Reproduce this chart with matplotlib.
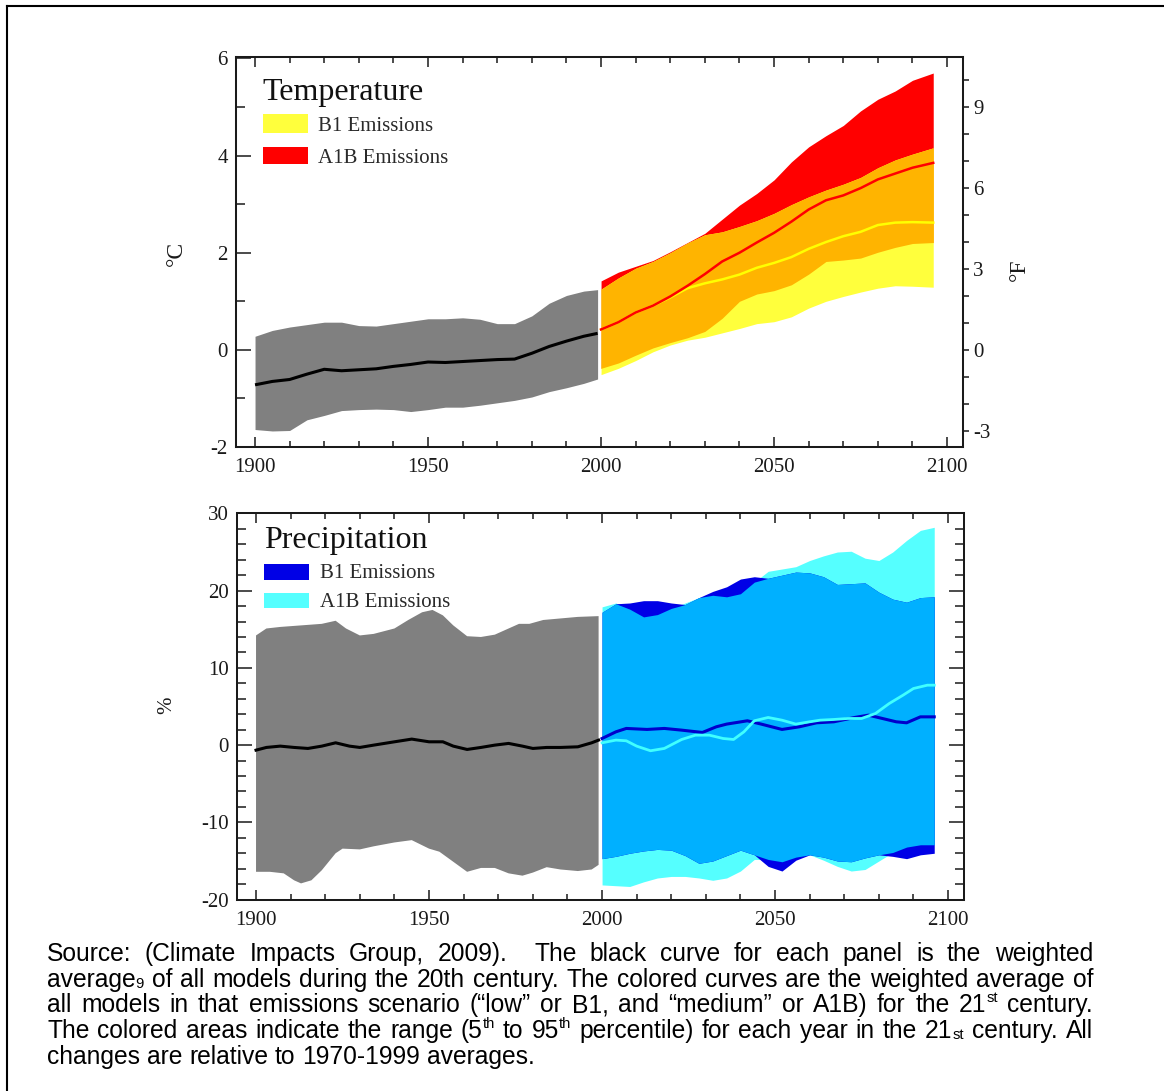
import re
import numpy as np
import matplotlib
matplotlib.use('Agg')
import matplotlib.pyplot as plt
from matplotlib.patches import Rectangle
from matplotlib.lines import Line2D
from matplotlib.ticker import MultipleLocator

# ---------------- data: temperature (deg C) ----------------
t_hist_years = [1900, 1905, 1910, 1915, 1920, 1925, 1930, 1935, 1940, 1945, 1950,
                1955, 1960, 1965, 1970, 1975, 1980, 1985, 1990, 1995, 1999]
t_hist_up = [0.28, 0.40, 0.47, 0.52, 0.57, 0.57, 0.50, 0.49, 0.54, 0.59, 0.64,
             0.64, 0.66, 0.63, 0.54, 0.54, 0.70, 0.96, 1.12, 1.21, 1.24]
t_hist_lo = [-1.64, -1.67, -1.66, -1.44, -1.35, -1.25, -1.23, -1.22, -1.23, -1.27, -1.23,
             -1.18, -1.18, -1.14, -1.09, -1.04, -0.97, -0.86, -0.78, -0.69, -0.60]
t_hist_mean = [-0.72, -0.65, -0.61, -0.50, -0.40, -0.43, -0.41, -0.39, -0.34, -0.30, -0.25,
               -0.26, -0.24, -0.22, -0.20, -0.19, -0.07, 0.07, 0.18, 0.28, 0.34]

t_fut_years = [2000, 2005, 2010, 2015, 2020, 2025, 2030, 2035, 2040, 2045,
               2050, 2055, 2060, 2065, 2070, 2075, 2080, 2085, 2090, 2096]
t_a1b_up = [1.42, 1.60, 1.72, 1.84, 2.02, 2.21, 2.40, 2.69, 2.98, 3.22,
            3.50, 3.87, 4.18, 4.41, 4.62, 4.92, 5.16, 5.33, 5.55, 5.70]
t_b1_up = [1.25, 1.48, 1.68, 1.82, 2.00, 2.20, 2.37, 2.43, 2.54, 2.66,
           2.81, 2.99, 3.15, 3.29, 3.41, 3.55, 3.75, 3.91, 4.03, 4.16]
t_a1b_lo = [-0.38, -0.27, -0.11, 0.04, 0.15, 0.25, 0.38, 0.65, 1.00, 1.15,
            1.22, 1.34, 1.56, 1.82, 1.85, 1.89, 2.01, 2.11, 2.19, 2.21]
t_b1_lo = [-0.51, -0.38, -0.22, -0.04, 0.10, 0.20, 0.26, 0.35, 0.44, 0.54,
           0.58, 0.68, 0.86, 1.00, 1.10, 1.19, 1.27, 1.32, 1.31, 1.29]
t_a1b_mean = [0.42, 0.57, 0.77, 0.91, 1.10, 1.32, 1.56, 1.82, 2.00, 2.21,
              2.41, 2.64, 2.89, 3.08, 3.18, 3.33, 3.51, 3.63, 3.75, 3.85]
t_b1_mean = [0.42, 0.57, 0.77, 0.91, 1.08, 1.27, 1.37, 1.45, 1.55, 1.69,
             1.79, 1.91, 2.08, 2.22, 2.34, 2.43, 2.57, 2.62, 2.63, 2.62]

# ---------------- data: precipitation (%) ----------------
p_hist_up_years = [1900, 1903, 1907, 1913, 1919, 1923, 1926, 1930, 1934, 1940, 1944, 1948, 1951,
                   1954, 1957, 1961, 1965, 1969, 1973, 1976, 1979, 1983, 1988, 1993, 1999]
p_hist_up = [14.2, 15.1, 15.3, 15.5, 15.7, 16.1, 15.1, 14.2, 14.4, 15.1, 16.2, 17.2, 17.5,
             16.8, 15.5, 14.1, 14.0, 14.3, 15.1, 15.7, 15.7, 16.2, 16.4, 16.6, 16.7]
p_hist_lo_years = [1900, 1904, 1908, 1911, 1913, 1916, 1919, 1923, 1925, 1930, 1934, 1940, 1945, 1950,
                   1953, 1957, 1961, 1965, 1969, 1973, 1977, 1980, 1984, 1988, 1993, 1997, 1999]
p_hist_lo = [-16.4, -16.4, -16.6, -17.5, -17.9, -17.5, -16.2, -14.0, -13.4, -13.5, -13.1, -12.6, -12.3, -13.4,
             -13.8, -15.1, -16.4, -15.9, -15.9, -16.6, -16.9, -16.5, -15.8, -16.1, -16.3, -16.1, -15.5]
p_hist_mean_years = [1900, 1903, 1907, 1911, 1915, 1919, 1923, 1927, 1930, 1934, 1940, 1945, 1950,
                     1954, 1957, 1961, 1965, 1969, 1973, 1977, 1980, 1984, 1988, 1993, 1997, 1999]
p_hist_mean = [-0.65, -0.30, -0.13, -0.30, -0.43, -0.13, 0.30, -0.13, -0.30, 0.0, 0.43, 0.78, 0.43,
               0.43, -0.13, -0.56, -0.30, 0.0, 0.22, -0.13, -0.43, -0.30, -0.30, -0.22, 0.30, 0.65]

p_fut_years = [2000, 2004, 2008, 2012, 2016, 2020, 2024, 2028, 2032, 2036, 2040, 2044, 2048,
               2052, 2056, 2060, 2064, 2068, 2072, 2076, 2080, 2084, 2088, 2092, 2096]
p_b1_up = [17.2, 18.3, 18.4, 18.7, 18.7, 18.4, 18.2, 19.1, 19.9, 20.5, 21.5, 21.8, 21.6,
           22.0, 22.4, 22.3, 21.8, 20.8, 20.9, 21.0, 19.8, 18.9, 18.5, 19.1, 19.2]
p_a1b_up = [17.9, 18.4, 17.6, 16.6, 16.9, 17.7, 18.4, 19.1, 19.4, 19.2, 19.6, 21.1, 22.5,
            22.8, 23.1, 23.9, 24.5, 25.0, 25.1, 24.2, 23.9, 25.0, 26.5, 27.8, 28.2]
p_b1_lo = [-14.7, -14.4, -14.0, -13.7, -13.5, -13.6, -14.3, -15.3, -15.0, -14.3, -13.6, -14.2, -15.7,
           -16.3, -14.9, -14.2, -14.5, -15.0, -15.1, -14.6, -14.2, -14.4, -14.7, -14.2, -14.0]
p_a1b_lo = [-18.1, -18.2, -18.3, -17.7, -17.2, -17.0, -17.0, -17.2, -17.5, -17.2, -16.3, -14.8, -14.8,
            -15.1, -14.5, -14.2, -14.9, -15.7, -16.3, -16.1, -15.0, -13.9, -13.2, -12.9, -12.9]
p_b1_mean_years = [2000, 2004, 2007, 2013, 2018, 2023, 2029, 2033, 2036, 2042, 2046,
                   2052, 2057, 2062, 2067, 2073, 2077, 2081, 2085, 2088, 2092, 2096]
p_b1_mean = [0.86, 1.72, 2.16, 2.03, 2.16, 1.94, 1.64, 2.37, 2.72, 3.15, 2.72,
             2.03, 2.37, 2.89, 3.02, 3.58, 3.88, 3.45, 3.02, 2.89, 3.66, 3.66]
p_a1b_mean_years = [2000, 2004, 2007, 2010, 2014, 2018, 2023, 2027, 2031, 2035, 2038, 2041, 2044, 2048,
                    2052, 2056, 2060, 2063, 2067, 2071, 2075, 2079, 2083, 2087, 2090, 2094, 2096]
p_a1b_mean = [0.30, 0.65, 0.56, -0.13, -0.73, -0.43, 0.73, 1.29, 1.29, 0.86, 0.73, 1.72, 3.15, 3.58,
              3.23, 2.72, 3.02, 3.23, 3.32, 3.45, 3.45, 4.09, 5.39, 6.47, 7.33, 7.76, 7.76]

# ---------------- text ----------------
temp_title = "Temperature"
prec_title = "Precipitation"
scen_labels = ["B1 Emissions", "A1B Emissions"]
caption_lines = [
    "Source: (Climate Impacts Group, 2009).  The black curve for each panel is the weighted",
    "average_9 of all models during the 20th century. The colored curves are the weighted average of",
    "all models in that emissions scenario (\u201clow\u201d or B1, and \u201cmedium\u201d or A1B) for the 21^st century.",
    "The colored areas indicate the range (5^th to 95^th percentile) for each year in the 21_st century. All",
    "changes are relative to 1970-1999 averages.",
]

# ---------------- style ----------------
W, H, DPI = 1164, 1091, 100
SERIF = ['Liberation Serif', 'DejaVu Serif']
SANS = ['Liberation Sans', 'DejaVu Sans']
INK = '#1a1a1a'
GRAY = '#808080'
RED, YELLOW, ORANGE = '#ff0000', '#ffff3c', '#ffb400'
DBLUE, CYAN, MBLUE = '#0000e6', '#55ffff', '#00b0ff'

plt.rcParams['font.family'] = SERIF
plt.rcParams['axes.unicode_minus'] = False
plt.rcParams['axes.linewidth'] = 1.45

fig = plt.figure(figsize=(W / DPI, H / DPI), dpi=DPI)
fig.patch.set_facecolor('white')


def rect(l, t, r, b):
    return [l / W, 1 - b / H, (r - l) / W, (b - t) / H]


AX1 = (236, 57, 963, 447)
AX2 = (237, 513, 964, 900)
ax1 = fig.add_axes(rect(*AX1))
ax2 = fig.add_axes(rect(*AX2))


def style(ax, ymaj, ymin, right):
    ax.set_xlim(1894.5, 2104.6)
    ax.xaxis.set_major_locator(MultipleLocator(50))
    ax.xaxis.set_minor_locator(MultipleLocator(10))
    ax.yaxis.set_major_locator(MultipleLocator(ymaj))
    ax.yaxis.set_minor_locator(MultipleLocator(ymin))
    ax.tick_params(which='both', direction='in', top=True, right=right,
                   colors=INK, width=1.1, labelsize=15)
    ax.tick_params(axis='x', which='major', length=7, pad=8)
    ax.tick_params(axis='x', which='minor', length=4.5)
    ax.tick_params(axis='y', which='major', length=10.5, pad=6)
    ax.tick_params(axis='y', which='minor', length=6.5)
    for s in ax.spines.values():
        s.set_color(INK)


# ---- temperature panel ----
ax1.set_ylim(-2.0, 6.03)
style(ax1, 2, 1, False)
ax1.fill_between(t_hist_years, t_hist_lo, t_hist_up, color=GRAY, lw=0)
ax1.plot(t_hist_years, t_hist_mean, color='black', lw=2.2, solid_capstyle='butt')
a_up, a_lo = np.array(t_a1b_up), np.array(t_a1b_lo)
b_up, b_lo = np.array(t_b1_up), np.array(t_b1_lo)
ax1.fill_between(t_fut_years, a_lo, a_up, color=RED, lw=0)
ax1.fill_between(t_fut_years, b_lo, b_up, color=YELLOW, lw=0)
ov_lo, ov_up = np.maximum(a_lo, b_lo), np.minimum(a_up, b_up)
ax1.fill_between(t_fut_years, ov_lo, ov_up, where=ov_up > ov_lo, interpolate=True, color=ORANGE, lw=0)
ax1.plot(t_fut_years, t_b1_mean, color='#ffff00', lw=1.8)
ax1.plot(t_fut_years, t_a1b_mean, color=RED, lw=1.8)
ax1.set_ylabel('\u00b0C', fontsize=17, color=INK, rotation=90)
ax1.yaxis.set_label_coords((176 - AX1[0]) / (AX1[2] - AX1[0]), (AX1[3] - 253) / (AX1[3] - AX1[1]))
ax1.yaxis.label.set_verticalalignment('center')

tax = ax1.twinx()
tax.set_ylim(-2.0 * 1.8, 6.03 * 1.8)
tax.yaxis.set_major_locator(MultipleLocator(3))
tax.yaxis.set_minor_locator(MultipleLocator(1))
tax.tick_params(axis='y', which='both', direction='out', length=4.5, width=1.1,
                pad=3, colors=INK, labelsize=15)
tax.set_ylabel('\u00b0F', fontsize=17, color=INK, rotation=90)
tax.yaxis.set_label_coords((1019 - AX1[0]) / (AX1[2] - AX1[0]), (AX1[3] - 270) / (AX1[3] - AX1[1]))
tax.yaxis.label.set_verticalalignment('center')
for s in tax.spines.values():
    s.set_color(INK)

# ---- precipitation panel ----
ax2.set_ylim(-20.05, 30.05)
style(ax2, 10, 2, True)
ax2.fill(list(p_hist_up_years) + list(p_hist_lo_years[::-1]),
         list(p_hist_up) + list(p_hist_lo[::-1]), color=GRAY, lw=0)
ax2.plot(p_hist_mean_years, p_hist_mean, color='black', lw=2.2)
pa_up, pa_lo = np.array(p_a1b_up), np.array(p_a1b_lo)
pb_up, pb_lo = np.array(p_b1_up), np.array(p_b1_lo)
ax2.fill_between(p_fut_years, pa_lo, pa_up, color=CYAN, lw=0)
ax2.fill_between(p_fut_years, pb_lo, pb_up, color=DBLUE, lw=0)
pov_lo, pov_up = np.maximum(pa_lo, pb_lo), np.minimum(pa_up, pb_up)
ax2.fill_between(p_fut_years, pov_lo, pov_up, where=pov_up > pov_lo, interpolate=True, color=MBLUE, lw=0)
ax2.plot(p_b1_mean_years, p_b1_mean, color='#0000cc', lw=2.2)
ax2.plot(p_a1b_mean_years, p_a1b_mean, color='#40ffff', lw=2.0)
ax2.set_ylabel('%', fontsize=15, color=INK, rotation=90)
ax2.yaxis.set_label_coords((167 - AX2[0]) / (AX2[2] - AX2[0]), (AX2[3] - 705) / (AX2[3] - AX2[1]))
ax2.yaxis.label.set_verticalalignment('center')


# ---- in-panel legends ----
def legend_block(ax, box, title, title_xy, entries):
    l, t, r, b = box
    fx = lambda x: (x - l) / (r - l)
    fy = lambda y: (b - y) / (b - t)
    ax.text(fx(title_xy[0]), fy(title_xy[1]), title, transform=ax.transAxes,
            fontsize=23, ha='left', va='baseline', color='#111111')
    for label, color, (x0, y0, x1, y1), (tx, ty) in entries:
        ax.add_patch(Rectangle((fx(x0), fy(y1)), fx(x1) - fx(x0), fy(y0) - fy(y1),
                               transform=ax.transAxes, facecolor=color, edgecolor='none'))
        ax.text(fx(tx), fy(ty), label, transform=ax.transAxes, fontsize=15,
                ha='left', va='baseline', color='#2a2a2a')


legend_block(ax1, AX1, temp_title, (262, 100),
             [(scen_labels[0], YELLOW, (263, 114, 308, 133), (318, 131)),
              (scen_labels[1], RED, (263, 147, 308, 164), (318, 163))])
legend_block(ax2, AX2, prec_title, (264, 548),
             [(scen_labels[0], DBLUE, (264, 564, 309, 580), (320, 578)),
              (scen_labels[1], CYAN, (264, 593, 309, 608), (320, 607))])

# ---- frame lines ----
fig.add_artist(Line2D([7 / W, 7 / W], [0, 1 - 6 / H], color='black', lw=1.5))
fig.add_artist(Line2D([7 / W, 1], [1 - 6 / H, 1 - 6 / H], color='black', lw=1.5))

# ---- justified caption ----
X0, X1 = 47, 1093
LAST_LINE_RIGHT = 549
baselines = [961, 987, 1012, 1038, 1064]
renderer = fig.canvas.get_renderer()


def measure(t, size):
    txt = fig.text(0, 0, t, fontsize=size, family=SANS, color='black', ha='left', va='baseline')
    return txt, txt.get_window_extent(renderer).width


def parse_runs(word, fs):
    out = []
    for sup, sub, norm in re.findall(r'\^(\w+)|_(\w+)|([^\^_]+)', word):
        if norm:
            out.append((norm, fs, 0.0))
        elif sup:
            out.append((sup, fs * 0.6, fs * 0.42))
        else:
            out.append((sub, fs * 0.6, -fs * 0.05))
    return out


def natural_width(line, fs):
    total = 0.0
    temps = []
    for word in line.split(' '):
        for s, size, dy in parse_runs(word, fs):
            t, w = measure(s, size)
            temps.append(t)
            total += w
    t, w_ab = measure('a a', fs)
    temps.append(t)
    t, w_aa = measure('aa', fs)
    temps.append(t)
    total += (len(line.split(' ')) - 1) * (w_ab - w_aa)
    for t in temps:
        t.remove()
    return total


# choose size: last line natural width like the reference, while every
# justified line still fits with at least its natural spacing
REF = 10.0
fits = [REF * (X1 - X0) / natural_width(l, REF) for l in caption_lines[:-1]]
want = REF * (LAST_LINE_RIGHT - X0) / natural_width(caption_lines[-1], REF)
CAP_FS = min(min(fits) * 0.995, want)

_t1, w_ab = measure('a a', CAP_FS)
_t2, w_aa = measure('aa', CAP_FS)
space_w = w_ab - w_aa
_t1.remove()
_t2.remove()

for i, (line, base) in enumerate(zip(caption_lines, baselines)):
    justify = i < len(caption_lines) - 1
    items = []
    total = 0.0
    for word in line.split(' '):
        runs = []
        for s, size, dy in parse_runs(word, CAP_FS):
            txt, wd = measure(s, size)
            runs.append((txt, wd, dy))
        ww = sum(r[1] for r in runs)
        items.append((runs, ww))
        total += ww
    gap = (X1 - X0 - total) / (len(items) - 1) if justify else space_w
    x = X0
    for runs, ww in items:
        for txt, wd, dy in runs:
            txt.set_position((x / W, (H - base + dy * DPI / 72) / H))
            x += wd
        x += gap

fig.savefig('out.png', dpi=DPI, facecolor='white')
